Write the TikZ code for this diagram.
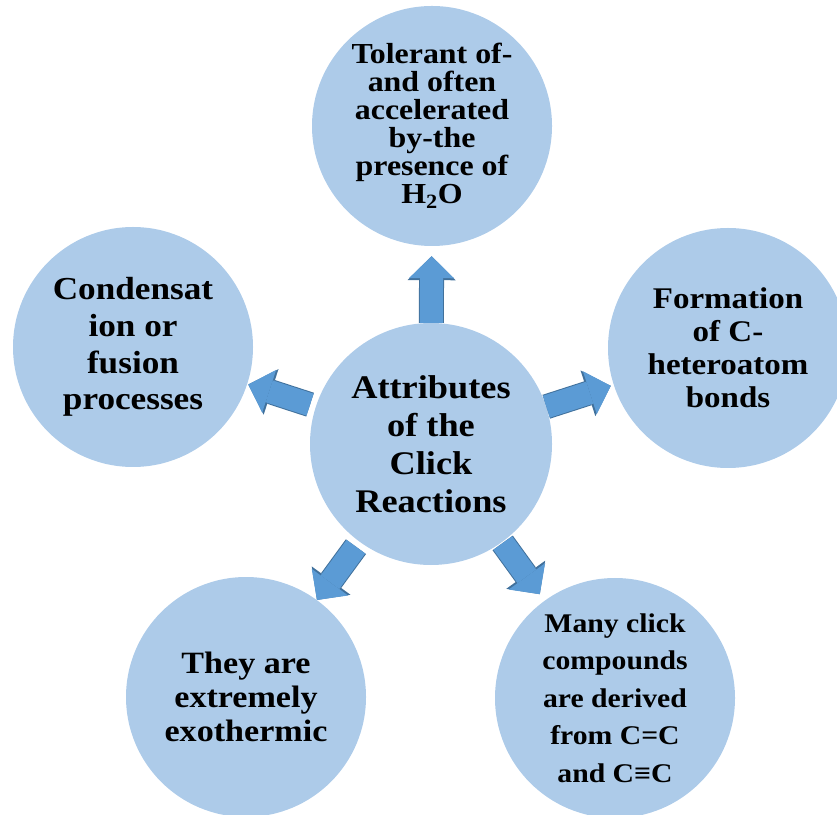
\documentclass[tikz,border=0pt]{standalone}
\usepackage{fontspec}
\setmainfont{Liberation Serif}[FakeStretch=1.1]
\usetikzlibrary{arrows.meta}
\definecolor{bubblefill}{RGB}{173,203,233}
\definecolor{arrowfill}{RGB}{91,155,213}
\definecolor{arrowline}{RGB}{65,113,156}

\begin{document}
\begin{tikzpicture}[x=100pt,y=100pt,
   bubble/.style={circle, fill=bubblefill, minimum size=240pt, inner sep=0pt, align=center},
   hub/.style={bubble, minimum size=242pt},
   flow/.style={draw=arrowfill, line width=23pt, -{Triangle[length=22pt,width=45pt,line width=0pt]},
      preaction={draw=arrowline, line width=25pt, -{Triangle[length=24pt,width=48pt,line width=0pt]}}}]
   \clip (0,0) rectangle (8.37,8.14);
   \node (attr) at (4.31,3.70) [hub, font=\bfseries\fontsize{33}{38}\selectfont] {Attributes\\of the\\Click\\Reactions};
   \node (water) at (4.32,6.88) [bubble, font=\bfseries\fontsize{29}{28}\selectfont] {Tolerant of-\\and often\\accelerated\\by-the\\presence of\\H\textsubscript{2}O};
   \node (fusion) at (1.33,4.67) [bubble, font=\bfseries\fontsize{32}{36.7}\selectfont] {Condensat\\ion or\\fusion\\processes};
   \node (hetero) at (7.28,4.66) [bubble, font=\bfseries\fontsize{30}{33}\selectfont] {Formation\\of C-\\heteroatom\\bonds};
   \node (exo) at (2.46,1.17) [bubble, font=\bfseries\fontsize{31}{34}\selectfont] {They are\\extremely\\exothermic};
   \node (alkyne) at (6.15,1.16) [bubble, font=\bfseries\fontsize{27}{37.5}\selectfont] {Many click\\compounds\\are derived\\from C=C\\and C≡C};
   \draw[flow, shorten >=10pt] (attr) -- (water);
   \draw[flow, shorten <=6pt, shorten >=1pt] (attr) -- (fusion);
   \draw[flow, shorten >=3pt] (attr) -- (hetero);
   \draw[flow, shorten <=6pt] (attr) -- (exo);
   \draw[flow, shorten <=1pt, shorten >=8pt] (attr) -- (alkyne);
\end{tikzpicture}
\end{document}
